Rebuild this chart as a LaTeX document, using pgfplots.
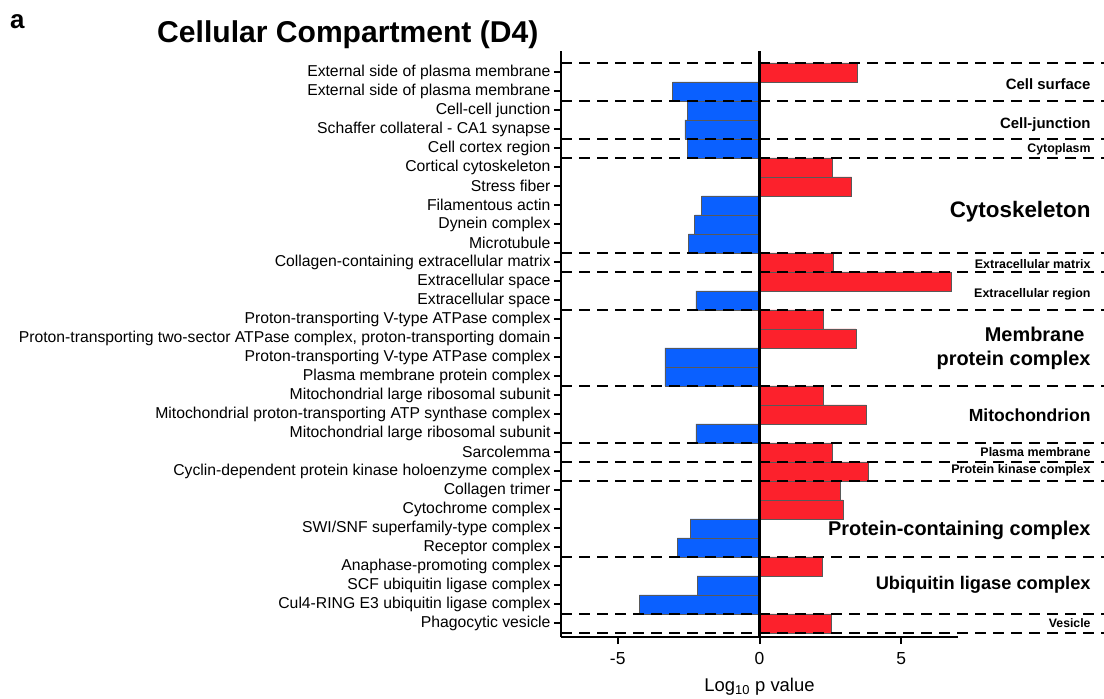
\documentclass[border=0pt]{standalone}
\usepackage{fontspec}
\setmainfont{Liberation Sans}
\usepackage{pgfplots}
\pgfplotsset{compat=1.18}
\definecolor{barred}{RGB}{252,33,44}
\definecolor{barblue}{RGB}{10,96,255}
\newcommand{\fs}[1]{\fontsize{#1}{#1}\selectfont}
\begin{document}
\begin{tikzpicture}
\useasboundingbox (0,0) rectangle (1104bp,699bp);
\node[anchor=base west,font=\fs{26}\bfseries,inner sep=0pt] at (10bp,670.5bp) {a};
\node[anchor=base west,font=\fs{30.2}\bfseries,inner sep=0pt] at (157bp,656bp) {Cellular Compartment (D4)};
\begin{axis}[
  at={(561bp,62bp)}, anchor=south west,
  scale only axis, width=397bp, height=586bp,
  xmin=-7, xmax=7, ymin=0.28, ymax=31.12,
  axis x line*=bottom, axis y line*=left,
  axis line style={line width=2bp},
  tick style={line width=2bp,black},
  major tick length=7bp,
  tick align=outside,
  clip=false,
  xtick={-5,0,5},
  ytick={1,...,30},
  yticklabels={
    Phagocytic vesicle,
    Cul4-RING E3 ubiquitin ligase complex,
    SCF ubiquitin ligase complex,
    Anaphase-promoting complex,
    Receptor complex,
    SWI/SNF superfamily-type complex,
    Cytochrome complex,
    Collagen trimer,
    Cyclin-dependent protein kinase holoenzyme complex,
    Sarcolemma,
    Mitochondrial large ribosomal subunit,
    Mitochondrial proton-transporting ATP synthase complex,
    Mitochondrial large ribosomal subunit,
    Plasma membrane protein complex,
    Proton-transporting V-type ATPase complex,
    {Proton-transporting two-sector ATPase complex, proton-transporting domain},
    Proton-transporting V-type ATPase complex,
    Extracellular space,
    Extracellular space,
    Collagen-containing extracellular matrix,
    Microtubule,
    Dynein complex,
    Filamentous actin,
    Stress fiber,
    Cortical cytoskeleton,
    Cell cortex region,
    Schaffer collateral - CA1 synapse,
    Cell-cell junction,
    External side of plasma membrane,
    External side of plasma membrane},
  /pgf/number format/assume math mode=true,
  yticklabel style={font=\fs{15.8}},
  xticklabel style={font=\fs{17.5},yshift=-5bp},
  xlabel={Log\textsubscript{10} p value},
  xlabel style={font=\fs{18.5},at={(axis description cs:0.5,0)},anchor=base,yshift=-54.7bp},
  xbar, bar width=1,
]
\addplot[xbar, bar shift=0pt, fill=barred, draw=black!65, line width=0.5bp] coordinates {
 (3.45,30) (2.55,25) (3.25,24) (2.6,20) (6.75,19) (2.25,17) (3.4,16)
 (2.25,13) (3.77,12) (2.57,10) (3.82,9) (2.84,8) (2.95,7) (2.2,4) (2.52,1)};
\addplot[xbar, bar shift=0pt, fill=barblue, draw=black!65, line width=0.5bp] coordinates {
 (-3.06,29) (-2.55,28) (-2.63,27) (-2.54,26) (-2.04,23) (-2.29,22) (-2.51,21)
 (-2.24,18) (-3.34,15) (-3.34,14) (-2.24,11) (-2.45,6) (-2.9,5) (-2.2,3) (-4.24,2)};
\pgfplotsinvokeforeach{30.5,28.5,26.5,25.5,20.5,19.5,17.5,13.5,10.5,9.5,8.5,4.5,1.5,0.5}{
  \draw[line width=2bp, dash pattern=on 11bp off 7bp] (axis cs:-7,#1) -- (axis cs:12.2,#1);
}
\draw[line width=2.6bp] (axis cs:0,0.28) -- (axis cs:0,31.12);
\begin{scope}[every node/.style={anchor=east,inner sep=0pt}]
\node[font=\fs{15}\bfseries] at (axis cs:11.68,29.37) {Cell surface};
\node[font=\fs{15}\bfseries] at (axis cs:11.68,27.26) {Cell-junction};
\node[font=\fs{12.4}\bfseries] at (axis cs:11.68,25.95) {Cytoplasm};
\node[font=\fs{22.5}\bfseries] at (axis cs:11.68,22.66) {Cytoskeleton};
\node[font=\fs{12.5}\bfseries] at (axis cs:11.68,19.91) {Extracellular matrix};
\node[font=\fs{12.5}\bfseries] at (axis cs:11.68,18.33) {Extracellular region};
\node[font=\fs{20}\bfseries,align=right] at (axis cs:11.68,15.48) {Membrane\hspace*{0.3em}\\[4bp]protein complex};
\node[font=\fs{17.6}\bfseries] at (axis cs:11.68,11.93) {Mitochondrion};
\node[font=\fs{12.5}\bfseries] at (axis cs:11.68,10.03) {Plasma membrane};
\node[font=\fs{12.5}\bfseries] at (axis cs:11.68,9.07) {Protein kinase complex};
\node[font=\fs{20}\bfseries] at (axis cs:11.68,5.91) {Protein-containing complex};
\node[font=\fs{18.3}\bfseries] at (axis cs:11.68,3.02) {Ubiquitin ligase complex};
\node[font=\fs{12.3}\bfseries] at (axis cs:11.68,1.0) {Vesicle};
\end{scope}
\end{axis}
\end{tikzpicture}
\end{document}
